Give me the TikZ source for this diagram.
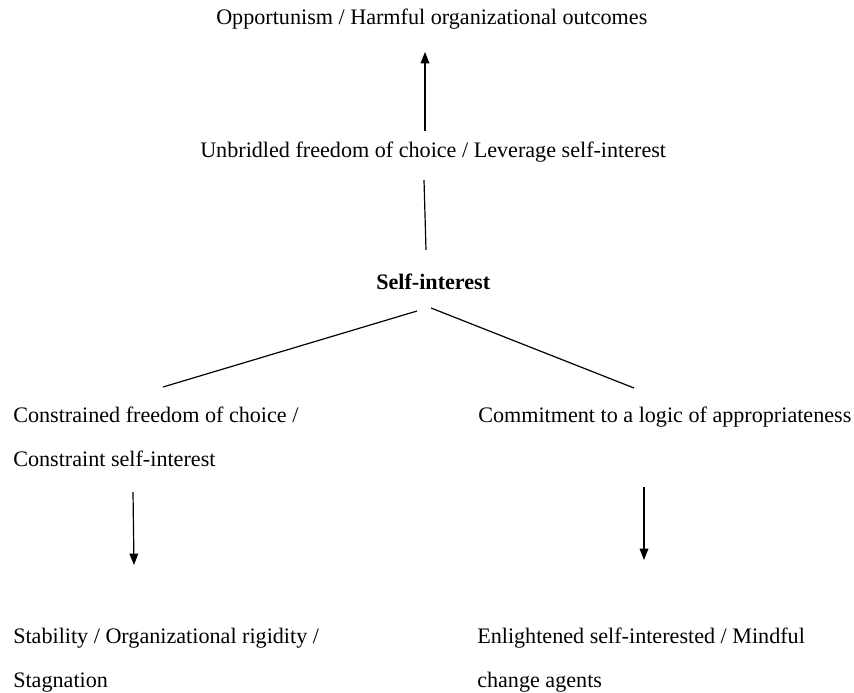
\documentclass[tikz,border=0pt]{standalone}
\usepackage{fontspec}
\setmainfont{Liberation Serif}
\usetikzlibrary{arrows.meta}

\tikzset{
  lbl/.style={anchor=base west, inner sep=0pt, align=left, font=\fontsize{16.6}{33}\selectfont},
  conn/.style={line width=0.9pt},
  arr/.style={conn, -{Triangle[length=8.5pt,width=6.5pt]}}
}

\begin{document}
\begin{tikzpicture}[x=0.75pt,y=0.75pt,yscale=-1,xscale=1]
\useasboundingbox (0,0) rectangle (854,693);

% Text Nodes (base = last line)
\node [lbl] (opportunism) at (216,24) {Opportunism / Harmful organizational outcomes};
\node [lbl] (unbridled) at (200,157) {Unbridled freedom of choice / Leverage self-interest};
\node [lbl] (selfint) at (376,289) {\textbf{Self-interest}};
\node [lbl] (constrained) at (13,466) {Constrained freedom of choice /\\Constraint self-interest};
\node [lbl] (commitment) at (478,422) {Commitment to a logic of appropriateness};
\node [lbl] (stability) at (13,687) {Stability / Organizational rigidity /\\Stagnation};
\node [lbl] (enlightened) at (477,687) {Enlightened self-interested / Mindful\\change agents};

% Connector ends
\coordinate (up1) at (425,131);
\coordinate (up2) at (425,52);
\coordinate (mid1) at (426,250);
\coordinate (mid2) at (424,180);
\coordinate (left1) at (417,311);
\coordinate (left2) at (163,387);
\coordinate (right1) at (431,308);
\coordinate (right2) at (634,388);
\coordinate (down1) at (133,492);
\coordinate (down2) at (134,565);
\coordinate (down3) at (644,487);
\coordinate (down4) at (644,560);

% Connectors
\draw [arr] (up1) -- (up2);
\draw [conn] (mid1) -- (mid2);
\draw [conn] (left1) -- (left2);
\draw [conn] (right1) -- (right2);
\draw [arr] (down1) -- (down2);
\draw [arr] (down3) -- (down4);

\end{tikzpicture}
\end{document}
